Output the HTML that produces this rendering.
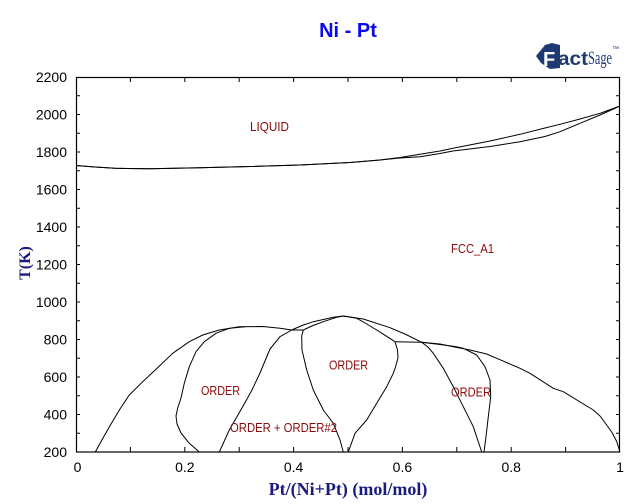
<!DOCTYPE html>
<html>
<head>
<meta charset="utf-8">
<style>
html,body{margin:0;padding:0;background:#fff;}
svg{display:block;}
</style>
</head>
<body>
<svg width="640" height="504" viewBox="0 0 640 504" xmlns="http://www.w3.org/2000/svg">
<rect x="0" y="0" width="640" height="504" fill="#fff"/>

<!-- Title -->
<text x="348" y="37" text-anchor="middle" font-family="Liberation Sans, sans-serif" font-weight="bold" font-size="20" fill="#0a0af0">Ni - Pt</text>

<!-- FactSage logo -->
<polygon points="536,56 545,45 552,43 560,45 560,68 550,69 541,63" fill="#1f3a73"/>
<text x="543" y="66" font-family="Liberation Sans, sans-serif" font-weight="bold" font-size="20" fill="#fff">F</text>
<text x="558" y="65" font-family="Liberation Sans, sans-serif" font-weight="bold" font-size="19" fill="#1f3a73" textLength="30" lengthAdjust="spacingAndGlyphs">act</text>
<text x="588" y="64" font-family="Liberation Serif, serif" font-size="19" fill="#1f3a73" textLength="24" lengthAdjust="spacingAndGlyphs">Sage</text>
<text x="612" y="51" font-family="Liberation Sans, sans-serif" font-size="7" fill="#1f3a73">™</text>

<!-- Plot frame -->
<rect x="76.5" y="77.5" width="543" height="374.5" fill="none" stroke="#000" stroke-width="1.2"/>

<!-- Ticks -->
<g stroke="#000" stroke-width="1">
<path d="M130.4,452V447 M184.8,452V447 M239.2,452V447 M293.6,452V447 M348,452V447 M402.4,452V447 M456.8,452V447 M511.2,452V447 M565.6,452V447
M130.4,77V82 M184.8,77V82 M239.2,77V82 M293.6,77V82 M348,77V82 M402.4,77V82 M456.8,77V82 M511.2,77V82 M565.6,77V82"/>
<path d="M76,433.25H80 M76,414.5H80 M76,395.75H80 M76,377H80 M76,358.25H80 M76,339.5H80 M76,320.75H80 M76,302H80 M76,283.25H80 M76,264.5H80 M76,245.75H80 M76,227H80 M76,208.25H80 M76,189.5H80 M76,170.75H80 M76,152H80 M76,133.25H80 M76,114.5H80 M76,95.75H80
M620,433.25H616 M620,414.5H616 M620,395.75H616 M620,377H616 M620,358.25H616 M620,339.5H616 M620,320.75H616 M620,302H616 M620,283.25H616 M620,264.5H616 M620,245.75H616 M620,227H616 M620,208.25H616 M620,189.5H616 M620,170.75H616 M620,152H616 M620,133.25H616 M620,114.5H616 M620,95.75H616"/>
</g>

<!-- Y tick labels -->
<g font-family="Liberation Sans, sans-serif" font-size="14" fill="#000" text-anchor="end">
<text x="67" y="457">200</text>
<text x="67" y="419.5">400</text>
<text x="67" y="382">600</text>
<text x="67" y="344.5">800</text>
<text x="67" y="307">1000</text>
<text x="67" y="269.5">1200</text>
<text x="67" y="232">1400</text>
<text x="67" y="194.5">1600</text>
<text x="67" y="157">1800</text>
<text x="67" y="119.5">2000</text>
<text x="67" y="82">2200</text>
</g>

<!-- X tick labels -->
<g font-family="Liberation Sans, sans-serif" font-size="14" fill="#000" text-anchor="middle">
<text x="77.5" y="472">0</text>
<text x="184.8" y="472">0.2</text>
<text x="293.6" y="472">0.4</text>
<text x="402.4" y="472">0.6</text>
<text x="511.2" y="472">0.8</text>
<text x="620" y="472">1</text>
</g>

<!-- Axis labels -->
<text x="348" y="495" text-anchor="middle" font-family="Liberation Serif, serif" font-weight="bold" font-size="18" fill="#1a1a80">Pt/(Ni+Pt) (mol/mol)</text>
<text transform="translate(30,263) rotate(-90)" text-anchor="middle" font-family="Liberation Serif, serif" font-weight="bold" font-size="16" fill="#1a1a80">T(K)</text>

<!-- Curves -->
<g fill="none" stroke="#000" stroke-width="1" stroke-linejoin="round">
<polyline points="76,165.5 95,167 115,168.3 150,168.8 200,167.8 250,166.5 300,165 350,162.5 380,160 400,157.5 420,154.3 440,151 453,148.3 490,141 520,134.3 545,128 560,124.3 580,119 600,113.3 620,106"/>
<polyline points="76,165.5 95,167 115,168.3 150,168.8 200,167.8 250,166.5 300,165 350,162.5 380,160 400,158 420,156.7 440,153.5 453,151 490,146.5 520,141.7 545,136.5 560,131.7 580,123.3 600,115 620,106"/>

<polyline points="95.3,452 103,438 111,424 120,409 129.3,395 142.7,381.7 156,369.3 172.7,353.3 189.3,341.7 202.7,335 219.3,330 239.3,326.7 262.7,326.5 280,328.3 291.7,330"/>
<polyline points="199.3,452 189.3,443.3 181,433 177,424 176,416 177.7,408 181,398 184.3,383.3 189.3,366.7 196,351.7 204.3,341.7 216,333.3 229.3,328.3 245,326.7"/>
<polyline points="291.7,330 280,336.7 270,349 260,373 252,390 242.7,406.7 229.3,430 219.3,452"/>
<polyline points="291.7,330 303.3,330"/>
<polyline points="291.7,330 302,325.5 313.3,321.7 333.3,317.3 343.3,316 363.3,319 390,327.7 406,334.5 421.7,342.3"/>
<polyline points="303.3,330 313,325.5 323.3,321.7 336.7,317.3 343.3,316 356.7,318.3 366,323.5 376.7,330 395,341.7"/>
<polyline points="303.3,330 301.7,336 302,350 306.7,370 313.3,390 323.3,410 333.3,423.3 340,440 343.3,452"/>
<polyline points="395,341.7 397.5,350 398,358 395.5,367 393.3,373.3 386.7,386.7 376.7,403.3 366.7,420 355,433.3 348.3,452"/>
<polyline points="395,341.7 421.7,342.3"/>
<polyline points="421.7,342.3 440,344 453.3,346.7 470,350 486.7,354 496.7,358.3 520,368.3 530,373.3 553.3,388.3 563.3,391.7 593.3,410 600,416 606.7,425 612,432.5 616.7,441.5 620,452"/>
<polyline points="421.7,342.3 428,347 433.3,353.3 443.3,368.3 453.3,386.7 463.3,406.7 473.3,426.7 481.7,452"/>
<polyline points="421.7,342.3 440,344.5 455,346.5 463.3,348.3 476.7,355 485,366.7 490,380 490.7,396.7 488.3,416.7 486,436.7 484,452"/>
</g>

<!-- Region labels -->
<g font-family="Liberation Sans, sans-serif" font-size="13" fill="#8c0a0a">
<text x="250" y="131" textLength="39" lengthAdjust="spacingAndGlyphs">LIQUID</text>
<text x="451" y="253" textLength="43" lengthAdjust="spacingAndGlyphs">FCC_A1</text>
<text x="201" y="395" textLength="39" lengthAdjust="spacingAndGlyphs">ORDER</text>
<text x="230" y="432" textLength="107" lengthAdjust="spacingAndGlyphs">ORDER + ORDER#2</text>
<text x="329" y="369.5" textLength="39" lengthAdjust="spacingAndGlyphs">ORDER</text>
<text x="451" y="396.5" textLength="40" lengthAdjust="spacingAndGlyphs">ORDER</text>
</g>
</svg>
</body>
</html>
